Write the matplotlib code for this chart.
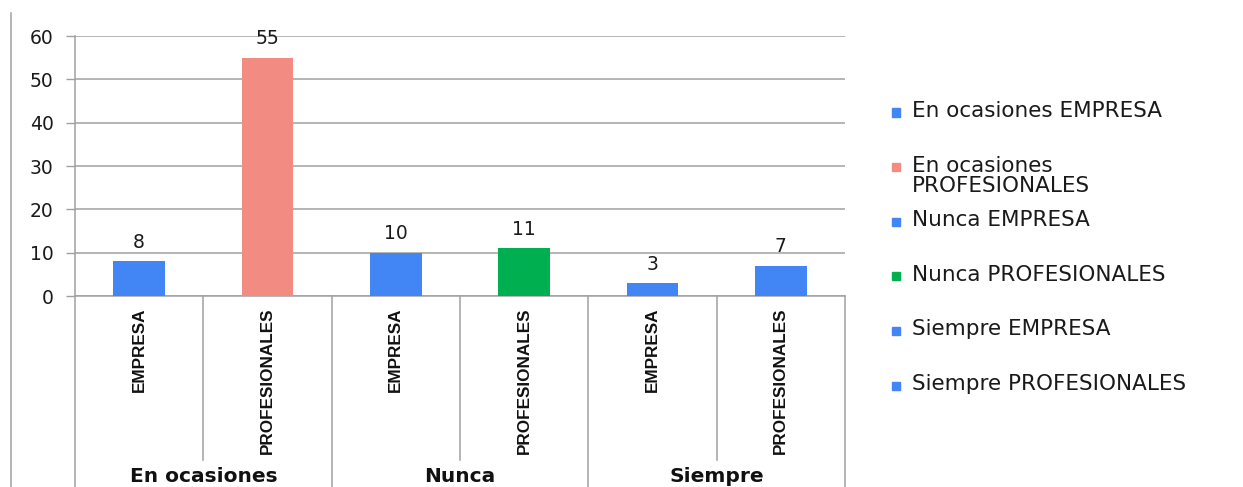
import matplotlib.pyplot as plt
from matplotlib.transforms import blended_transform_factory
from matplotlib.patches import Rectangle
from matplotlib.lines import Line2D

groups = ["En ocasiones", "Nunca", "Siempre"]
subgroups = ["EMPRESA", "PROFESIONALES"]
values = [8, 55, 10, 11, 3, 7]
colors = ["#4285F4", "#F28B82", "#4285F4", "#00B050", "#4285F4", "#4285F4"]
legend_labels = [
    "En ocasiones EMPRESA",
    "En ocasiones\nPROFESIONALES",
    "Nunca EMPRESA",
    "Nunca PROFESIONALES",
    "Siempre EMPRESA",
    "Siempre PROFESIONALES",
]
yticks = [0, 10, 20, 30, 40, 50, 60]

W, H = 1243, 487
fig = plt.figure(figsize=(W / 100, H / 100), dpi=100)
ax = fig.add_axes([75 / W, 1 - 296 / H, 770 / W, 260 / H])

x = list(range(len(values)))
ax.bar(x, values, width=0.405, color=colors, zorder=3)
for xi, v in zip(x, values):
    ax.annotate(str(v), (xi, v), xytext=(0, 9.5), textcoords="offset points",
                ha="center", va="baseline", fontsize=13.5, color="#1a1a1a")

ax.set_xlim(-0.5, len(values) - 0.5)
ax.set_ylim(0, 60)
ax.set_yticks(yticks)
ax.yaxis.grid(True, color="#a0a0a0", linewidth=1.1, zorder=0)
ax.tick_params(axis="y", length=6.5, width=1, color="#a0a0a0", pad=9,
               labelsize=13.5, labelcolor="#1a1a1a")
ax.set_xticks([])
for side in ["top", "right"]:
    ax.spines[side].set_visible(False)
for side in ["left", "bottom"]:
    ax.spines[side].set_color("#a0a0a0")
    ax.spines[side].set_linewidth(1.1)

# two-level category axis below the plot
tr = blended_transform_factory(ax.transData, fig.transFigure)
y_axis = 1 - 296 / H
for b in [0.5, 2.5, 4.5]:
    ax.add_line(Line2D([b, b], [y_axis, 1 - 460 / H], transform=tr,
                       color="#a0a0a0", lw=1.1, clip_on=False))
for b in [-0.5, 1.5, 3.5, 5.5]:
    ax.add_line(Line2D([b, b], [y_axis, 0], transform=tr,
                       color="#a0a0a0", lw=1.1, clip_on=False))

for i, xi in enumerate(x):
    ax.text(xi, 1 - 308 / H, subgroups[i % 2], transform=tr, rotation=90,
            ha="center", va="top", fontsize=12.3, fontweight="bold",
            family="Liberation Sans", color="#111111")
for g, name in enumerate(groups):
    ax.text(2 * g + 0.5, 5.5 / H, name, transform=tr, ha="center",
            va="baseline", fontsize=14.5, fontweight="bold", color="#111111")

# chart border on the left
fig.add_artist(Line2D([11 / W, 11 / W], [0, 1 - 13 / H], color="#a0a0a0", lw=1.1))

# legend, one slot per series; wrapped labels hang below their first line
for i, (lab, col) in enumerate(zip(legend_labels, colors)):
    base = 117 + i * 54.6
    extra = lab.count("\n") * 20.5
    fig.add_artist(Rectangle((892 / W, 1 - (base - 0.5) / H), 8 / W, 8 / H,
                             color=col, transform=fig.transFigure))
    fig.text(912 / W, 1 - (base + extra) / H, lab, ha="left", va="baseline",
             fontsize=15.5, color="#1a1a1a", linespacing=1.035)

fig.savefig("out.png", dpi=100)
